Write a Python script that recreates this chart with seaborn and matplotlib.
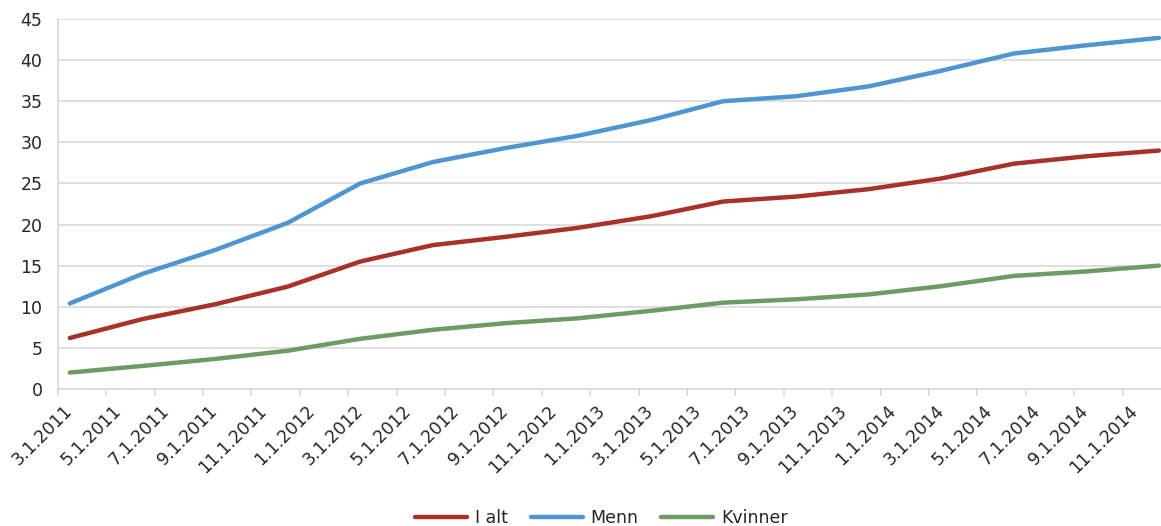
import pandas as pd
import matplotlib.pyplot as plt
import seaborn as sns

# Quarterly observations (month of observation)
months = ['2011-03', '2011-06', '2011-09', '2011-12',
          '2012-03', '2012-06', '2012-09', '2012-12',
          '2013-03', '2013-06', '2013-09', '2013-12',
          '2014-03', '2014-06', '2014-09', '2014-12']
i_alt = [6.2, 8.5, 10.3, 12.45, 15.5, 17.5, 18.5, 19.6,
         21.0, 22.8, 23.4, 24.3, 25.6, 27.4, 28.3, 29.0]
menn = [10.4, 14.0, 16.9, 20.2, 25.0, 27.6, 29.3, 30.8,
        32.7, 35.0, 35.6, 36.8, 38.7, 40.8, 41.8, 42.7]
kvinner = [2.0, 2.8, 3.65, 4.65, 6.1, 7.2, 8.0, 8.6,
           9.5, 10.5, 10.9, 11.5, 12.5, 13.75, 14.3, 15.0]

tick_labels = ['3.1.2011', '5.1.2011', '7.1.2011', '9.1.2011', '11.1.2011',
               '1.1.2012', '3.1.2012', '5.1.2012', '7.1.2012', '9.1.2012', '11.1.2012',
               '1.1.2013', '3.1.2013', '5.1.2013', '7.1.2013', '9.1.2013', '11.1.2013',
               '1.1.2014', '3.1.2014', '5.1.2014', '7.1.2014', '9.1.2014', '11.1.2014']

series = {'I alt': i_alt, 'Menn': menn, 'Kvinner': kvinner}
colors = {'I alt': '#A8322A', 'Menn': '#4F95D1', 'Kvinner': '#6E9B64'}

# month slots (Excel date axis with month base unit, points at slot centre)
start = pd.Period('2011-03', freq='M')
slot = [(pd.Period(m, freq='M') - start).n + 0.5 for m in months]

rows = []
for name, vals in series.items():
    for x, v in zip(slot, vals):
        rows.append({'x': x, 'value': v, 'serie': name})
df = pd.DataFrame(rows)

sns.set_style('white')
plt.rcParams['font.family'] = ['DejaVu Sans']
text_color = '#262626'

fig = plt.figure(figsize=(11.61, 5.26), dpi=100)
ax = fig.add_axes([0.0497, 0.2605, 0.9589, 0.7034])

sns.lineplot(data=df, x='x', y='value', hue='serie', palette=colors,
             linewidth=3.2, ax=ax, legend=False)

ax.set_xlim(0, 46)
ax.set_ylim(0, 45)
ax.set_yticks(range(0, 46, 5))
ax.yaxis.grid(True, color='#d9d9d9', linewidth=1.2)
ax.set_axisbelow(True)

# tick marks at slot borders, labels at slot centres
ax.set_xticks(range(0, 45, 2))
ax.set_xticklabels([])
ax.set_xticks([i + 0.5 for i in range(0, 45, 2)], minor=True)
ax.set_xticklabels(tick_labels, minor=True, rotation=45, ha='right',
                   rotation_mode='anchor', va='center')
ax.tick_params(axis='x', which='major', length=5, color='#d9d9d9', width=1.2, direction='out', bottom=True)
ax.tick_params(axis='x', which='minor', length=0, pad=14, labelsize=12.5, labelcolor=text_color)
ax.tick_params(axis='y', length=0, pad=11, labelsize=12.5, labelcolor=text_color)

for side in ['top', 'right']:
    ax.spines[side].set_visible(False)
for side in ['left', 'bottom']:
    ax.spines[side].set_color('#d9d9d9')
    ax.spines[side].set_linewidth(1.2)

ax.set_xlabel('')
ax.set_ylabel('')

handles = [plt.Line2D([0], [0], color=colors[n], lw=3.2, solid_capstyle='round') for n in series]
fig.legend(handles, list(series.keys()), loc='lower center', bbox_to_anchor=(0.518, -0.032),
           ncol=3, frameon=False, fontsize=12.5, handlelength=3.0, columnspacing=1.3,
           handletextpad=0.45, labelcolor=text_color)

fig.savefig('out.png', dpi=100)
